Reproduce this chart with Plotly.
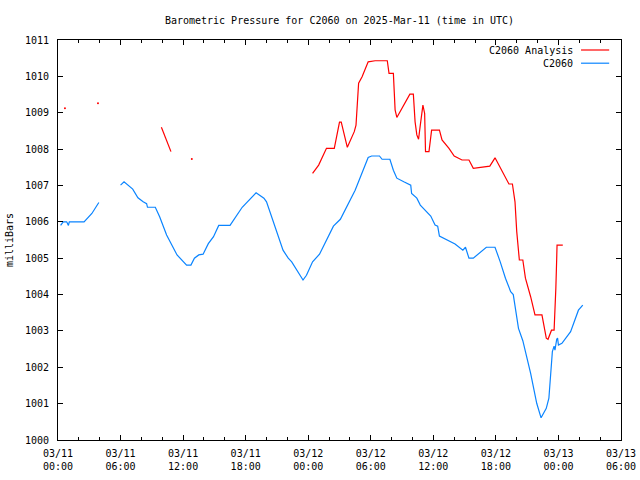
import plotly.graph_objects as go

# ---- data ----
obs_time = [
    "2025-03-11 00:15", "2025-03-11 00:30", "2025-03-11 00:50", "2025-03-11 01:00", "2025-03-11 01:05",
    "2025-03-11 02:30", "2025-03-11 03:15", "2025-03-11 03:55", "2025-03-11 05:00",
    "2025-03-11 06:00", "2025-03-11 06:20", "2025-03-11 07:10", "2025-03-11 07:40", "2025-03-11 08:10",
    "2025-03-11 08:30", "2025-03-11 08:35", "2025-03-11 09:20", "2025-03-11 09:45", "2025-03-11 10:25",
    "2025-03-11 10:55", "2025-03-11 11:25", "2025-03-11 12:20", "2025-03-11 12:45", "2025-03-11 13:05",
    "2025-03-11 13:30", "2025-03-11 13:55", "2025-03-11 14:25", "2025-03-11 14:55", "2025-03-11 15:25",
    "2025-03-11 16:30", "2025-03-11 17:00", "2025-03-11 17:40", "2025-03-11 19:00", "2025-03-11 19:45",
    "2025-03-11 20:00", "2025-03-11 20:20", "2025-03-11 20:50", "2025-03-11 21:15", "2025-03-11 21:35",
    "2025-03-11 22:05", "2025-03-11 22:25", "2025-03-11 23:30", "2025-03-11 23:50", "2025-03-12 00:25",
    "2025-03-12 01:05", "2025-03-12 02:25", "2025-03-12 03:05", "2025-03-12 04:30", "2025-03-12 05:45",
    "2025-03-12 06:05", "2025-03-12 06:50", "2025-03-12 07:05", "2025-03-12 07:50", "2025-03-12 08:10",
    "2025-03-12 08:30", "2025-03-12 09:10", "2025-03-12 09:50", "2025-03-12 09:55", "2025-03-12 10:25",
    "2025-03-12 10:45", "2025-03-12 11:45", "2025-03-12 12:10", "2025-03-12 12:25", "2025-03-12 12:35",
    "2025-03-12 14:05", "2025-03-12 14:50", "2025-03-12 15:05", "2025-03-12 15:25", "2025-03-12 15:50",
    "2025-03-12 17:05", "2025-03-12 17:55", "2025-03-12 18:25", "2025-03-12 18:55", "2025-03-12 19:25",
    "2025-03-12 19:40", "2025-03-12 20:10", "2025-03-12 20:35", "2025-03-12 21:20", "2025-03-12 21:55",
    "2025-03-12 22:20", "2025-03-12 22:50", "2025-03-12 23:05", "2025-03-12 23:15", "2025-03-12 23:25",
    "2025-03-12 23:35", "2025-03-12 23:40", "2025-03-12 23:50", "2025-03-12 23:55", "2025-03-13 00:00",
    "2025-03-13 00:20", "2025-03-13 01:10", "2025-03-13 01:55", "2025-03-13 02:20",
]
obs_mb = [
    1005.9, 1006.0, 1006.0, 1005.9, 1006.0,
    1006.0, 1006.23, 1006.53, None,
    1007.01, 1007.1, 1006.9, 1006.66, 1006.55,
    1006.5, 1006.4, 1006.4, 1006.14, 1005.64,
    1005.36, 1005.09, 1004.81, 1004.81, 1005.0,
    1005.09, 1005.11, 1005.4, 1005.59, 1005.9,
    1005.9, 1006.1, 1006.4, 1006.8, 1006.65,
    1006.55, 1006.28, 1005.87, 1005.5, 1005.22,
    1005.0, 1004.9, 1004.4, 1004.53, 1004.9,
    1005.11, 1005.88, 1006.07, 1006.87, 1007.77,
    1007.81, 1007.81, 1007.72, 1007.72, 1007.42,
    1007.2, 1007.1, 1007.01, 1006.78, 1006.65,
    1006.46, 1006.16, 1005.91, 1005.88, 1005.61,
    1005.39, 1005.22, 1005.3, 1005.0, 1005.0,
    1005.3, 1005.3, 1004.9, 1004.45, 1004.08,
    1004.0, 1003.07, 1002.73, 1001.83, 1001.01,
    1000.61, 1000.87, 1001.15, 1001.74, 1002.43,
    1002.58, 1002.47, 1002.77, 1002.8, 1002.61,
    1002.66, 1002.98, 1003.57, 1003.71,
]

ana_time = [
    "2025-03-11 00:40", "2025-03-11 02:00", "2025-03-11 03:50", "2025-03-11 07:00",
    "2025-03-11 09:55", "2025-03-11 10:50", "2025-03-11 11:30", "2025-03-11 12:50", "2025-03-11 18:00",
    "2025-03-12 00:25", "2025-03-12 01:00", "2025-03-12 01:45", "2025-03-12 02:30", "2025-03-12 03:00",
    "2025-03-12 03:10", "2025-03-12 03:45", "2025-03-12 04:25", "2025-03-12 04:35", "2025-03-12 04:50",
    "2025-03-12 05:10", "2025-03-12 05:45", "2025-03-12 06:25", "2025-03-12 07:35", "2025-03-12 07:45",
    "2025-03-12 08:10", "2025-03-12 08:15", "2025-03-12 08:20", "2025-03-12 08:30", "2025-03-12 09:45",
    "2025-03-12 10:05", "2025-03-12 10:15", "2025-03-12 10:25", "2025-03-12 10:35", "2025-03-12 10:45",
    "2025-03-12 11:00", "2025-03-12 11:10", "2025-03-12 11:15", "2025-03-12 11:35", "2025-03-12 11:50",
    "2025-03-12 12:35", "2025-03-12 12:50", "2025-03-12 13:30", "2025-03-12 14:00", "2025-03-12 14:45",
    "2025-03-12 15:25", "2025-03-12 15:50", "2025-03-12 17:25", "2025-03-12 17:55", "2025-03-12 19:15",
    "2025-03-12 19:35", "2025-03-12 19:50", "2025-03-12 20:00", "2025-03-12 20:10", "2025-03-12 20:15",
    "2025-03-12 20:35", "2025-03-12 20:50", "2025-03-12 21:20", "2025-03-12 21:45", "2025-03-12 22:25",
    "2025-03-12 22:50", "2025-03-12 23:00", "2025-03-12 23:20", "2025-03-12 23:35", "2025-03-12 23:40",
    "2025-03-12 23:45", "2025-03-12 23:50", "2025-03-12 23:52", "2025-03-13 00:25",
]
ana_mb = [
    1009.12, None, 1009.26, None,
    1008.6, 1007.93, None, 1007.73, None,
    1007.33, 1007.56, 1008.02, 1008.02, 1008.74,
    1008.74, 1008.05, 1008.48, 1008.66, 1009.81,
    1009.99, 1010.4, 1010.43, 1010.43, 1010.08,
    1010.08, 1009.58, 1009.08, 1008.87, 1009.51,
    1009.51, 1008.75, 1008.39, 1008.27, 1008.66,
    1009.21, 1008.98, 1007.93, 1007.93, 1008.52,
    1008.52, 1008.25, 1008.02, 1007.81, 1007.7,
    1007.7, 1007.47, 1007.53, 1007.76, 1007.04,
    1007.04, 1006.55, 1005.73, 1005.13, 1004.95,
    1004.95, 1004.45, 1003.94, 1003.44, 1003.44,
    1002.8, 1002.77, 1003.02, 1003.02, 1003.44,
    1004.17, 1005.0, 1005.36, 1005.36,
]

x_tick_vals = ["2025-03-11 00:00", "2025-03-11 06:00", "2025-03-11 12:00", "2025-03-11 18:00",
               "2025-03-12 00:00", "2025-03-12 06:00", "2025-03-12 12:00", "2025-03-12 18:00",
               "2025-03-13 00:00", "2025-03-13 06:00"]
x_tick_text = ["03/11<br>00:00", "03/11<br>06:00", "03/11<br>12:00", "03/11<br>18:00",
               "03/12<br>00:00", "03/12<br>06:00", "03/12<br>12:00", "03/12<br>18:00",
               "03/13<br>00:00", "03/13<br>06:00"]
y_ticks = list(range(1000, 1012))

RED = "#ff0000"
BLUE = "#0a84ff"
FONT = "DejaVu Sans Mono"

# isolated analysis values (no neighbours) are drawn as single dots
iso_t, iso_v = [], []
for i, v in enumerate(ana_mb):
    prev_none = i == 0 or ana_mb[i - 1] is None
    next_none = i == len(ana_mb) - 1 or ana_mb[i + 1] is None
    if v is not None and prev_none and next_none:
        iso_t.append(ana_time[i])
        iso_v.append(v)

fig = go.Figure()
fig.add_trace(go.Scatter(x=ana_time, y=ana_mb, mode="lines", name="C2060 Analysis",
                         line=dict(color=RED, width=1.2), connectgaps=False, showlegend=False))
fig.add_trace(go.Scatter(x=iso_t, y=iso_v, mode="markers", marker=dict(size=2, color=RED),
                         showlegend=False, hoverinfo="skip"))
fig.add_trace(go.Scatter(x=obs_time, y=obs_mb, mode="lines", name="C2060",
                         line=dict(color=BLUE, width=1.2), connectgaps=False, showlegend=False))

# legend drawn gnuplot-style: text then line sample
legend_items = [("C2060 Analysis", RED, 0.975), ("C2060", BLUE, 0.942)]
for label, col, yy in legend_items:
    fig.add_annotation(x=0.918, y=yy, xref="paper", yref="paper", text=label, showarrow=False,
                       xanchor="right", yanchor="middle", font=dict(family=FONT, size=10, color="black"))
    fig.add_shape(type="line", xref="paper", yref="paper", x0=0.929, x1=0.979, y0=yy, y1=yy,
                  line=dict(color=col, width=1.2))

fig.update_layout(
    width=640, height=480,
    margin=dict(l=58, r=19, t=40, b=40, autoexpand=False),
    paper_bgcolor="white", plot_bgcolor="white",
    font=dict(family=FONT, size=10, color="black"),
    title=dict(text="Barometric Pressure for C2060 on 2025-Mar-11 (time in UTC)",
               x=0.5, xanchor="center", y=0.958, yanchor="middle", xref="paper",
               font=dict(family=FONT, size=10, color="black")),
    showlegend=False,
)
fig.update_xaxes(
    type="date", range=["2025-03-11 00:00", "2025-03-13 06:00"], automargin=False,
    tickmode="array", tickvals=x_tick_vals, ticktext=x_tick_text, ticklabelstandoff=4,
    ticks="inside", ticklen=5, tickcolor="black", tickwidth=1,
    minor=dict(dtick=2 * 3600 * 1000, ticks="inside", ticklen=3, tickcolor="black", showgrid=False),
    showline=True, linecolor="black", linewidth=1, mirror="ticks",
    showgrid=False, zeroline=False, tickfont=dict(family=FONT, size=10),
)
fig.update_yaxes(
    range=[1000, 1011], tickmode="array", tickvals=y_ticks, automargin=False,
    ticks="inside", ticklen=5, tickcolor="black", tickwidth=1, ticklabelstandoff=6,
    showline=True, linecolor="black", linewidth=1, mirror="ticks",
    showgrid=False, zeroline=False, tickfont=dict(family=FONT, size=10),
    title=dict(text="milliBars", font=dict(family=FONT, size=10), standoff=9),
)

fig.write_html("out.html")
